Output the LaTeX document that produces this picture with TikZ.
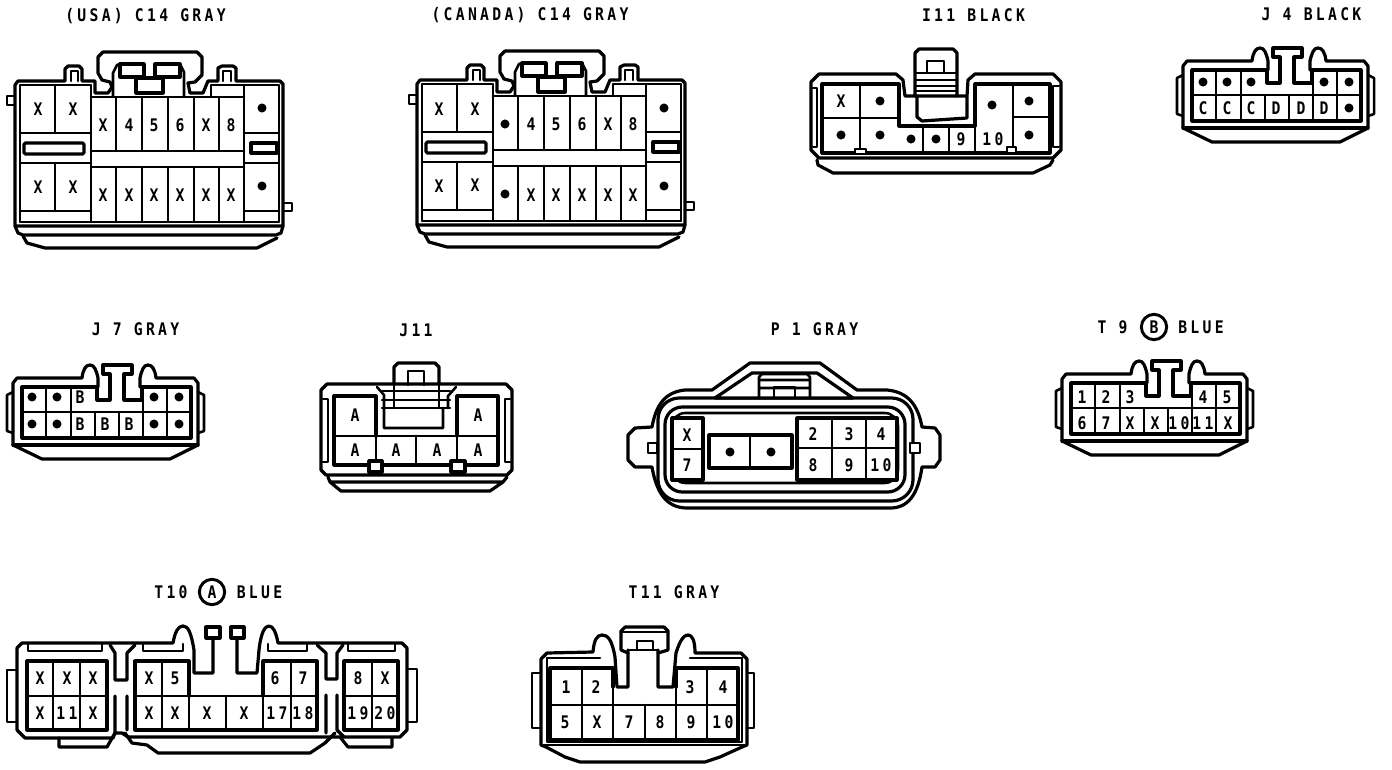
\documentclass[tikz,border=0pt]{standalone}
\usepackage{fontspec}
\newfontfamily\plateFont[FakeStretch=0.85,LetterSpace=19]{DejaVu Sans Mono Bold}
\tikzset{every picture/.style={line width=0.75pt}}
\tikzset{shell/.style={line width=2.4pt,line join=round,line cap=round},
	cell/.style={line width=1.9pt,line join=round,line cap=round},
	title/.style={inner sep=0.75pt,font=\plateFont\fontsize{13}{13}\selectfont},
	pin/.style={inner sep=0pt,font=\plateFont\fontsize{13}{13}\selectfont},
	pindot/.style={circle,fill=black,inner sep=0pt,minimum size=6.8pt},
	ringmark/.style={circle,draw,line width=2.2pt,inner sep=0pt,minimum size=19pt}}
% connector with the long handle, drawn at the place of the left one
\def\cFourteen{
	\draw [shell] (15,226) -- (15,85) -- (18,81) -- (65,81) -- (65,69) -- (68,66) -- (79,66) -- (82,69) -- (82,81) -- (95,81) -- (95,93) -- (108,93) -- (112,87) -- (110,82) -- (102,80) -- (98,73) -- (98,57) -- (103,52) -- (197,52) -- (202,57) -- (202,75) -- (195,82) -- (188,83) -- (190,93) -- (203,93) -- (208,81) -- (218,81) -- (218,68) -- (222,66) -- (233,66) -- (236,68) -- (236,81) -- (280,81) -- (283,84) -- (283,226) -- cycle ;
	\draw [shell] (15,226) -- (18,233) -- (23,235) -- (276,235) -- (281,233) -- (283,226) ;
	\draw [shell] (23,236) -- (27,243) -- (45,248) -- (257,248) -- (277,238) ;
	% pegs on the sides
	\draw [cell] (15,96) -- (7,96) -- (7,105) -- (15,105) (283,203) -- (292,203) -- (292,211) -- (283,211) ;
	\draw [cell] (71,81) -- (71,71) -- (78,71) -- (78,81) (223,81) -- (223,71) -- (231,71) -- (231,81) ;
	% lock
	\draw [cell] (113,97) -- (113,73) -- (117,65) -- (120,64) (184,97) -- (184,72) -- (180,64) ;
	\draw [shell] (120,64) rectangle (144,77) (155,64) rectangle (180,77) (136,78) rectangle (163,93) ;
	% walls
	\draw [cell] (20,85) -- (90,85) (244,85) -- (279,85) (20,85) -- (20,222) (279,85) -- (279,222) (20,222) -- (279,222) ;
	\draw [cell] (91,85) -- (91,222) (244,85) -- (244,222) (91,97) -- (244,97) (91,151) -- (244,151) (91,167) -- (244,167) (211,85) -- (244,85) (211,85) -- (211,97) ;
	\draw [cell] (20,133) -- (91,133) (20,163) -- (91,163) (20,211) -- (91,211) (55,85) -- (55,133) (55,163) -- (55,211) ;
	\draw [cell] (244,133) -- (279,133) (244,163) -- (279,163) (244,211) -- (279,211) ;
	\foreach \xa in {116,142,168,194,219} {
		\draw [cell] (\xa,97) -- (\xa,151) (\xa,167) -- (\xa,222) ;
	}
	\draw [shell,rounded corners=1pt] (24,143) rectangle (84,154) ;
	\draw [shell] (251,143) rectangle (277,153) ;
}
% small housing with two humps, drawn at the place of J 4
\def\smallHousing{
	\draw [shell] (1183,128) -- (1183,66) -- (1187,61) -- (1252,61) .. controls (1253,52) and (1256,48) .. (1260,48) .. controls (1264,48) and (1266,52) .. (1268,61) -- (1268,70) ;
	\draw [shell] (1310,70) -- (1310,61) .. controls (1312,52) and (1314,48) .. (1318,48) .. controls (1322,48) and (1325,52) .. (1326,61) -- (1364,61) -- (1368,66) -- (1368,128) -- (1340,142) -- (1212,142) -- (1183,128) ;
	\draw [shell] (1183,128) -- (1368,128) ;
	\draw [cell] (1183,75) -- (1177,78) -- (1177,114) -- (1183,116) (1368,75) -- (1374,78) -- (1374,114) -- (1368,116) ;
	% lock
	\draw [shell] (1192,70) -- (1267,70) -- (1267,83) -- (1280,83) -- (1280,57) -- (1273,57) -- (1273,48) -- (1302,48) -- (1302,57) -- (1294,57) -- (1294,83) -- (1312,83) -- (1312,70) -- (1361,70) -- (1361,121) -- (1192,121) -- cycle ;
	\draw [cell] (1192,95) -- (1361,95) ;
	\foreach \xa in {1216,1241,1313,1337} {
		\draw [cell] (\xa,70) -- (\xa,121) ;
	}
	\foreach \xa in {1265,1289} {
		\draw [cell] (\xa,95) -- (\xa,121) ;
	}
}

\begin{document}
\begin{tikzpicture}[x=0.75pt,y=0.75pt,yscale=-1,xscale=1]
	\useasboundingbox (0,0) rectangle (1392,770);

	%Shape: C14 usa
	\cFourteen
	%Shape: C14 canada
	\begin{scope}[shift={(402,-1)}]
		\cFourteen
	\end{scope}
	% Text Node
	\draw (145.5,16) node (usaTitle) [title] {(USA) C14 GRAY};
	\draw (530,15) node (canadaTitle) [title] {(CANADA) C14 GRAY};
	\foreach \xa/\ya/\ta [count=\i] in {38/109/X,73/109/X,103/125/X,129/125/4,154/125/5,180/125/6,206/125/X,231/125/8,38/187/X,73/187/X,103/195/X,129/195/X,154/195/X,180/195/X,206/195/X,231/195/X} {
		\draw (\xa,\ya) node (usaPin\i) [pin] {\ta};
	}
	\foreach \xa/\ya [count=\i] in {262/108,262/186} {
		\draw (\xa,\ya) node (usaDot\i) [pindot] {};
	}
	\foreach \xa/\ya/\ta [count=\i] in {439/109/X,475/109/X,531/124/4,556/124/5,582/124/6,608/124/X,633/124/8,439/186/X,475/185/X,531/195/X,556/195/X,582/195/X,608/195/X,633/195/X} {
		\draw (\xa,\ya) node (canadaPin\i) [pin] {\ta};
	}
	\foreach \xa/\ya [count=\i] in {505/124,505/194,664/108,664/186} {
		\draw (\xa,\ya) node (canadaDot\i) [pindot] {};
	}

	%Shape: I11
	\draw [shell] (811,150) -- (811,82) -- (819,74) -- (896,74) -- (903,80) -- (905,96) -- (967,96) -- (968,80) -- (975,74) -- (1053,74) -- (1061,82) -- (1061,150) -- (1053,158) -- (819,158) -- cycle ;
	\draw [shell] (817,160) -- (818,165) -- (833,173) -- (1033,173) -- (1050,165) -- (1053,160) ;
	\draw [shell] (915,96) -- (915,53) -- (919,49) -- (953,49) -- (957,53) -- (957,96) ;
	\draw [shell] (917,96) -- (917,117) -- (922,121) -- (967,118) -- (967,96) ;
	\draw [cell] (927,73) -- (927,61) -- (944,61) -- (944,73) (916,73) -- (957,73) (916,80) -- (957,80) (916,86) -- (957,86) (916,91) -- (957,91) ;
	\draw [cell] (813,88) -- (817,88) -- (817,147) -- (813,147) (1059,86) -- (1053,86) -- (1053,147) -- (1059,147) ;
	\draw [shell] (899,126) -- (899,84) -- (822,84) -- (822,153) -- (1050,153) -- (1050,84) -- (975,84) -- (975,126) -- cycle ;
	\draw [cell] (860,84) -- (860,153) (822,118) -- (899,118) (923,126) -- (923,153) (949,126) -- (949,153) (975,126) -- (975,153) (1013,84) -- (1013,153) (1013,117) -- (1050,117) ;
	\draw [cell,fill=white] (855,149) rectangle (866,154) (1007,147) rectangle (1016,153) ;
	% Text Node
	\draw (973.5,15) node (iElevenTitle) [title] {I11 BLACK};
	\draw (841,101) node (iElevenPin1) [pin] {X};
	\draw (961,139) node (iElevenPin2) [pin] {9};
	\draw (993,139) node (iElevenPin3) [pin] {10};
	\foreach \xa/\ya [count=\i] in {880/101,841/135,880/135,911/139,936/139,992/105,1029/101,1029/135} {
		\draw (\xa,\ya) node (iElevenDot\i) [pindot] {};
	}

	%Shape: J 4
	\smallHousing
	% Text Node
	\draw (1311.5,14) node (jFourTitle) [title] {J~4~BLACK};
	\foreach \xa/\ta [count=\i] in {1203/C,1227/C,1251/C,1276/D,1301/D,1324/D} {
		\draw (\xa,108) node (jFourPin\i) [pin] {\ta};
	}
	\foreach \xa/\ya [count=\i] in {1203/82,1227/82,1251/82,1324/82,1349/82,1349/108} {
		\draw (\xa,\ya) node (jFourDot\i) [pindot] {};
	}

	%Shape: J 7
	\begin{scope}[shift={(-1170,317)}]
		\smallHousing
	\end{scope}
	% Text Node
	\draw (135.5,329) node (jSevenTitle) [title] {J~7~GRAY};
	\foreach \xa/\ya/\ta [count=\i] in {80/397/B,80/424/B,105/424/B,129/424/B} {
		\draw (\xa,\ya) node (jSevenPin\i) [pin] {\ta};
	}
	\foreach \xa/\ya [count=\i] in {32/397,57/397,154/397,179/397,32/424,57/424,154/424,179/424} {
		\draw (\xa,\ya) node (jSevenDot\i) [pindot] {};
	}

	%Shape: J11
	\draw [shell] (321,470) -- (321,390) -- (327,384) -- (506,384) -- (512,390) -- (512,470) -- (507,475) -- (326,475) -- cycle ;
	\draw [shell] (328,477) -- (330,482) -- (341,491) -- (490,491) -- (503,482) -- (507,477) (330,482) -- (503,482) ;
	\draw [shell] (394,384) -- (394,367) -- (398,363) -- (435,363) -- (439,367) -- (439,384) ;
	\draw [cell] (408,385) -- (408,371) -- (424,371) -- (424,385) (394,384) -- (394,408) (439,384) -- (439,408) (382,391) -- (450,391) (382,400) -- (450,400) (382,408) -- (450,408) ;
	\draw [cell] (377,387) -- (384,395) -- (384,428) -- (443,428) -- (443,408) (456,387) -- (448,396) -- (448,408) ;
	\draw [cell] (323,399) -- (328,399) -- (328,462) -- (323,462) (510,399) -- (505,399) -- (505,462) -- (510,462) ;
	\draw [shell] (376,436) -- (376,396) -- (334,396) -- (334,465) -- (498,465) -- (498,396) -- (457,396) -- (457,436) ;
	\draw [cell] (334,436) -- (498,436) (376,436) -- (376,465) (416,436) -- (416,465) (457,436) -- (457,465) ;
	\draw [shell,fill=white] (369,461) rectangle (382,472) (451,461) rectangle (465,472) ;
	% Text Node
	\draw (416,330) node (jElevenTitle) [title] {J11};
	\foreach \xa/\ya [count=\i] in {355/415,478/415,355/450,396/450,437/450,478/450} {
		\draw (\xa,\ya) node (jElevenPin\i) [pin] {A};
	}

	%Shape: P 1
	\draw [shell] (750,363) -- (820,363) -- (857,390) -- (887,390) .. controls (908,392) and (918,405) .. (922,427) -- (935,428) -- (940,435) -- (940,460) -- (935,467) -- (922,467) .. controls (918,495) and (908,508) .. (890,508) -- (687,508) .. controls (665,508) and (656,490) .. (652,467) -- (635,467) -- (628,460) -- (628,435) -- (635,428) -- (652,427) .. controls (656,405) and (665,392) .. (685,390) -- (712,390) -- cycle ;
	\draw [shell,rounded corners=16pt] (658,398) -- (658,501) -- (913,501) -- (913,398) -- cycle ;
	\draw [shell,rounded corners=13pt] (665,407) rectangle (905,492) ;
	\draw [cell,rounded corners=10pt] (672,413) rectangle (898,483) ;
	\draw [cell,fill=white] (648,443) rectangle (657,453) (910,443) rectangle (920,453) ;
	\draw [shell,fill=white] (715,398) -- (752,373) -- (817,373) -- (853,398) -- cycle ;
	\draw [cell] (759,398) -- (759,377) -- (762,374) -- (807,374) -- (810,377) -- (810,398) (759,380) -- (810,380) (759,388) -- (810,388) ;
	\draw [cell] (774,398) -- (774,387) -- (795,387) -- (795,398) ;
	\draw [shell,fill=white] (672,418) rectangle (703,480) (709,435) rectangle (792,468) (797,418) rectangle (897,480) ;
	\draw [cell] (672,449) -- (703,449) (750,435) -- (750,468) (797,448) -- (897,448) (832,418) -- (832,480) (866,418) -- (866,480) ;
	% Text Node
	\draw (814.5,329) node (pOneTitle) [title] {P~1~GRAY};
	\foreach \xa/\ya/\ta [count=\i] in {687/435/X,687/465/7,813/434/2,849/434/3,881/434/4,813/465/8,849/465/9,881/465/10} {
		\draw (\xa,\ya) node (pOnePin\i) [pin] {\ta};
	}
	\foreach \xa/\ya [count=\i] in {730/452,771/452} {
		\draw (\xa,\ya) node (pOneDot\i) [pindot] {};
	}

	%Shape: T 9
	\begin{scope}[shift={(-121,313)}]
		\smallHousing
	\end{scope}
	% Text Node
	\draw (1112.5,327) node (tNineTitle) [title] {T~9};
	\draw (1154,327) node (tNineMark) [ringmark,title] {B};
	\draw (1201,327) node (tNineColor) [title] {BLUE};
	\foreach \xa/\ya/\ta [count=\i] in {1082/397/1,1106/397/2,1130/397/3,1203/397/4,1227/397/5,1082/423/6,1106/423/7,1130/423/X,1155/423/X,1179/423/10,1203/423/11,1228/423/X} {
		\draw (\xa,\ya) node (tNinePin\i) [pin] {\ta};
	}

	%Shape: T10
	\draw [shell] (17,730) -- (17,648) -- (22,643) -- (173,643) .. controls (175,632) and (178,626) .. (183,626) .. controls (188,626) and (191,632) .. (194,650) -- (194,673) -- (213,673) -- (213,638) ;
	\draw [shell] (237,638) -- (237,673) -- (257,673) -- (259,650) .. controls (261,632) and (265,626) .. (269,626) .. controls (273,626) and (276,632) .. (278,643) -- (402,643) -- (407,648) -- (407,730) -- (400,737) -- (128,737) -- (122,733) -- (115,733) -- (113,738) -- (25,738) -- (17,730) ;
	\draw [shell] (206,627) rectangle (220,638) (231,627) rectangle (244,638) ;
	\draw [shell] (59,738) -- (59,747) -- (107,747) -- (115,733) ;
	\draw [shell] (125,733) -- (132,743) -- (147,745) -- (158,753) -- (310,753) -- (325,743) -- (335,733) (340,737) -- (348,747) -- (392,747) -- (392,738) ;
	\draw [cell] (17,670) -- (7,670) -- (7,722) -- (17,722) (407,669) -- (417,669) -- (417,722) -- (407,722) ;
	\draw [cell] (28,644) -- (28,651) -- (102,651) -- (102,644) (143,644) -- (143,651) -- (183,651) -- (183,644) (268,644) -- (268,651) -- (307,651) -- (307,644) (348,644) -- (348,651) -- (395,651) -- (395,644) ;
	\draw [shell] (110,645) -- (115,653) -- (115,680) -- (127,680) -- (127,653) -- (135,645) (115,696) -- (115,733) (127,696) -- (127,730) (317,645) -- (326,653) -- (326,679) -- (337,679) -- (337,653) -- (343,645) (326,695) -- (326,733) (337,695) -- (337,730) -- (344,737) ;
	\draw [shell] (27,661) rectangle (107,730) (344,661) rectangle (398,730) ;
	\draw [shell] (189,696) -- (189,661) -- (135,661) -- (135,730) -- (317,730) -- (317,661) -- (263,661) -- (263,696) ;
	\draw [cell] (27,696) -- (107,696) (53,661) -- (53,730) (80,661) -- (80,730) (135,696) -- (317,696) (162,661) -- (162,730) (189,696) -- (189,730) (226,696) -- (226,730) (263,696) -- (263,730) (291,661) -- (291,730) (344,696) -- (398,696) (372,661) -- (372,730) ;
	% Text Node
	\draw (171,592) node (tTenTitle) [title] {T10};
	\draw (212,592) node (tTenMark) [ringmark,title] {A};
	\draw (259.5,592) node (tTenColor) [title] {BLUE};
	\foreach \xa/\ya/\ta [count=\i] in {40/678/X,67/678/X,93/678/X,149/678/X,175/678/5,275/678/6,303/678/7,358/678/8,385/678/X,40/713/X,67/713/11,93/713/X,149/713/X,175/713/X,207/713/X,244/713/X,277/713/17,303/713/18,358/713/19,385/713/20} {
		\draw (\xa,\ya) node (tTenPin\i) [pin] {\ta};
	}

	%Shape: T11
	\draw [shell] (541,745) -- (541,659) -- (547,653) -- (593,652) .. controls (594,640) and (597,635) .. (602,635) .. controls (608,635) and (612,640) .. (615,657) -- (617,687) -- (628,687) -- (628,650) ;
	\draw [shell] (658,650) -- (658,687) -- (673,687) -- (676,653) .. controls (680,640) and (684,635) .. (688,635) .. controls (692,635) and (695,640) .. (695,653) -- (741,653) -- (747,659) -- (747,745) -- (742,747) -- (720,757) -- (705,762) -- (580,762) -- (565,757) -- (546,747) -- (541,745) ;
	\draw [cell] (547,658) -- (547,742) -- (742,742) -- (742,658) (541,745) -- (747,745) ;
	\draw [cell] (547,658) -- (600,658) (690,658) -- (742,658) ;
	\draw [cell] (541,673) -- (532,673) -- (532,728) -- (541,728) (747,673) -- (754,673) -- (754,728) -- (747,728) ;
	\draw [shell] (621,650) -- (621,631) -- (625,627) -- (664,627) -- (668,631) -- (668,650) -- (658,653) (621,650) -- (628,653) ;
	\draw [cell] (621,632) -- (668,632) (637,650) -- (637,641) -- (653,641) -- (653,650) (628,650) -- (658,650) ;
	\draw [shell] (613,687) -- (613,668) -- (550,668) -- (550,740) -- (738,740) -- (738,668) -- (676,668) -- (676,687) ;
	\draw [cell] (550,705) -- (738,705) (582,668) -- (582,740) (613,687) -- (613,740) (645,705) -- (645,740) (676,687) -- (676,740) (707,668) -- (707,740) ;
	% Text Node
	\draw (674,592) node (tElevenTitle) [title] {T11 GRAY};
	\foreach \xa/\ya/\ta [count=\i] in {566/687/1,596/687/2,690/687/3,723/687/4,565/722/5,597/722/X,629/722/7,660/722/8,691/722/9,723/722/10} {
		\draw (\xa,\ya) node (tElevenPin\i) [pin] {\ta};
	}
\end{tikzpicture}
\end{document}
